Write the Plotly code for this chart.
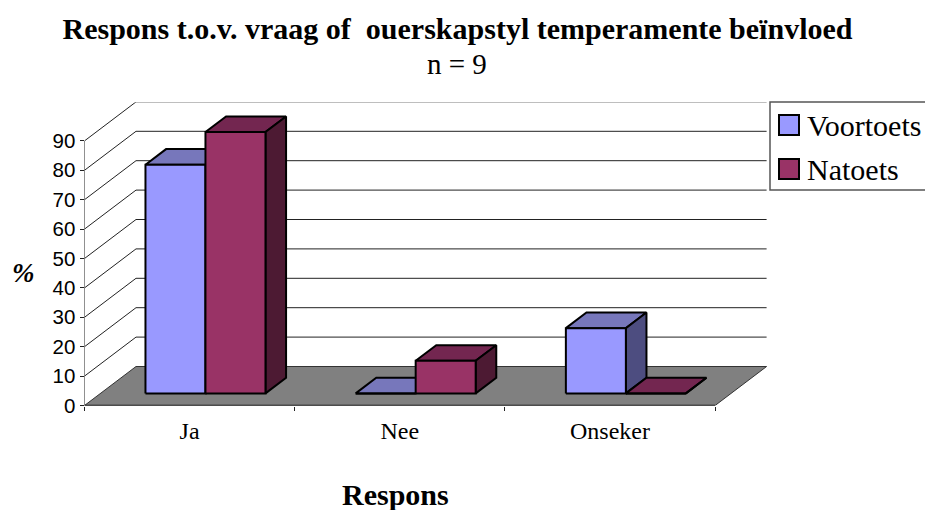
import plotly.graph_objects as go

categories = ["Ja", "Nee", "Onseker"]
voortoets = [77.8, 0, 22.2]
natoets = [88.9, 11.1, 0]
value_ticks = [0, 10, 20, 30, 40, 50, 60, 70, 80, 90]

WIDTH, HEIGHT = 925, 510
X0, X1 = 84.5, 767
Y0, Y1 = 405.5, 102.3
CAT_PX = 210.2
VAL_PX = 2.94

# oblique depth, in axis units
DEPTH_X = 51.5 / CAT_PX
DEPTH_Y = 39 / VAL_PX
BAR_FRONT, BAR_BACK = 0.31, 0.71
BAR_W = 60 / CAT_PX
BAR_GAP = 45 / CAT_PX


def project(x, v, d):
    return x + d * DEPTH_X, v + d * DEPTH_Y


def poly(points, fill, width=2, line="black"):
    xs, ys = zip(*[project(*p) for p in points])
    return go.Scatter(
        x=list(xs) + [xs[0]],
        y=list(ys) + [ys[0]],
        mode="lines",
        fill="toself",
        fillcolor=fill,
        line={"color": line, "width": width},
        hoverinfo="skip",
        showlegend=False,
    )


def segment(points, color="#222222", width=1):
    xs, ys = zip(*[project(*p) for p in points])
    return go.Scatter(
        x=xs,
        y=ys,
        mode="lines",
        line={"color": color, "width": width},
        hoverinfo="skip",
        showlegend=False,
    )


def bar(x, v, colors):
    front, top, side = colors
    x2 = x + BAR_W
    f, b = BAR_FRONT, BAR_BACK
    return [
        poly([(x, v, f), (x, v, b), (x2, v, b), (x2, v, f)], top),
        poly([(x2, 0, f), (x2, 0, b), (x2, v, b), (x2, v, f)], side),
        poly([(x, 0, f), (x2, 0, f), (x2, v, f), (x, v, f)], front),
    ]


fig = go.Figure()
n = len(categories)

# floor
fig.add_trace(poly([(0, 0, 0), (n, 0, 0), (n, 0, 1), (0, 0, 1)], "#808080", 1, "#333333"))

# walls
for v in value_ticks[1:]:
    fig.add_trace(segment([(0, v, 0), (0, v, 1), (n, v, 1)]))
fig.add_trace(segment([(0, 0, 0), (0, value_ticks[-1], 0)], "#222222", 1))
fig.add_trace(segment([(0, 0, 0), (n, 0, 0)], "#111111", 1.5))

# bars, one category at a time so the nearer faces overlap properly
for i in range(n):
    x = i + BAR_GAP
    fig.add_traces(bar(x, voortoets[i], ("#9999FF", "#7777BB", "#4D4D80")))
    fig.add_traces(bar(x + BAR_W, natoets[i], ("#993366", "#732650", "#4D1A33")))

fig.update_xaxes(
    domain=[X0 / WIDTH, X1 / WIDTH],
    range=[0, (X1 - X0) / CAT_PX],
    tickvals=[i + 0.5 for i in range(n)],
    ticktext=categories,
    ticks="",
    tickfont={"family": "Liberation Serif", "size": 24, "color": "black"},
    showgrid=False,
    zeroline=False,
    showline=False,
    minor={"tickvals": list(range(n + 1)), "ticks": "outside", "ticklen": 4, "tickcolor": "#222222", "showgrid": False},
    ticklabelstandoff=8,
)
fig.update_yaxes(
    domain=[1 - Y0 / HEIGHT, 1 - Y1 / HEIGHT],
    range=[0, (Y0 - Y1) / VAL_PX],
    tickvals=value_ticks,
    ticks="outside",
    ticklen=4,
    tickcolor="#222222",
    tickfont={"family": "Liberation Sans", "size": 20.5, "color": "black"},
    showgrid=False,
    zeroline=False,
    showline=False,
)


def px(x):
    return x / WIDTH


def py(y):
    return 1 - y / HEIGHT


def label(text, x, y, size, anchor="center"):
    return dict(
        text=text,
        xref="paper",
        yref="paper",
        x=px(x),
        y=py(y),
        xanchor=anchor,
        yanchor="middle",
        showarrow=False,
        font={"family": "Liberation Serif", "size": size, "color": "black"},
    )


fig.update_layout(
    width=WIDTH,
    height=HEIGHT,
    margin={"l": 0, "r": 0, "t": 0, "b": 0, "autoexpand": False},
    paper_bgcolor="white",
    plot_bgcolor="white",
    showlegend=False,
    title={
        "text": "<b>Respons t.o.v. vraag of\u00a0 ouerskapstyl temperamente beïnvloed</b>",
        "x": px(457.5),
        "y": py(28),
        "xanchor": "center",
        "yanchor": "middle",
        "font": {"family": "Liberation Serif", "size": 30, "color": "black"},
    },
    annotations=[
        label("n = 9", 457, 64, 29),
        label("<b><i>%</i></b>", 23, 273, 27),
        label("<b>Respons</b>", 395, 494, 30),
        label("Voortoets", 805, 125, 30, "left"),
        label("Natoets", 805, 170, 30, "left"),
    ],
    shapes=[
        # legend box runs off the right edge, as in the original
        dict(type="rect", xref="paper", yref="paper", x0=px(770), x1=px(940), y0=py(190), y1=py(102),
             line={"color": "#555555", "width": 1.5}, fillcolor="white"),
        dict(type="rect", xref="paper", yref="paper", x0=px(779), x1=px(799), y0=py(135), y1=py(115),
             line={"color": "black", "width": 2}, fillcolor="#9999FF"),
        dict(type="rect", xref="paper", yref="paper", x0=px(779), x1=px(799), y0=py(179), y1=py(159),
             line={"color": "black", "width": 2}, fillcolor="#993366"),
    ],
)

fig.write_html("out.html", config={"displayModeBar": False}, post_script="document.body.style.margin = 0;")
